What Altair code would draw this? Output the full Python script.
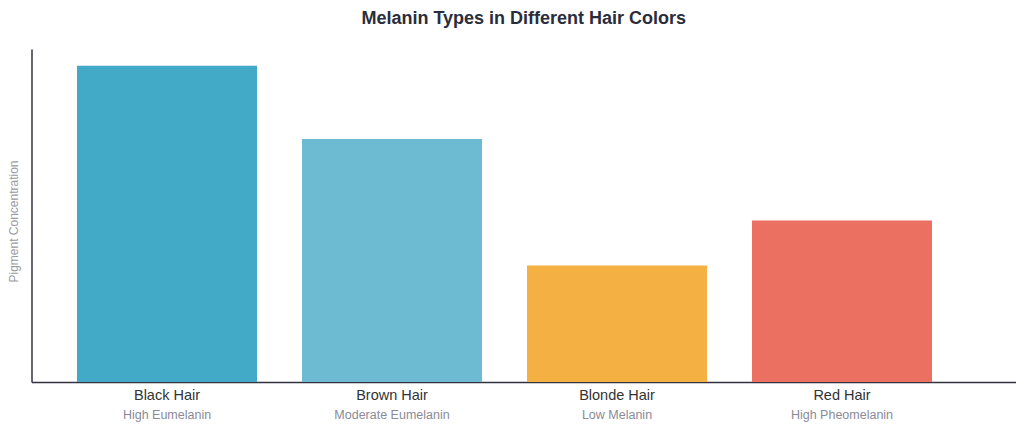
import altair as alt
import pandas as pd

categories = ["Black Hair", "Brown Hair", "Blonde Hair", "Red Hair"]
descriptions = ["High Eumelanin", "Moderate Eumelanin", "Low Melanin", "High Pheomelanin"]
values = [95, 73, 35, 48.5]
colors = ["#42a9c7", "#6cbbd3", "#f4b043", "#eb7062"]

df = pd.DataFrame({"hair": categories, "desc": descriptions, "value": values})

W, H = 984.5, 333
FONT = "Liberation Sans"

x_enc = alt.X(
    "hair:N",
    sort=categories,
    scale=alt.Scale(domain=categories, paddingInner=0.2, paddingOuter=0.2878, align=0.3514),
    axis=alt.Axis(title=None, labels=False, ticks=False, grid=False,
                  domain=True, domainColor="#333340", domainWidth=1.5),
)

base = alt.Chart(df)

bars = base.mark_bar().encode(
    x=x_enc,
    y=alt.Y(
        "value:Q",
        scale=alt.Scale(domain=[0, 100], nice=False),
        axis=alt.Axis(title="Pigment Concentration", labels=False, ticks=False, grid=False,
                      domainColor="#333340", domainWidth=1.5,
                      titleFont=FONT, titleFontSize=12, titleFontWeight="normal",
                      titleColor="#9a9aa2", titleAngle=-90, titleAlign="center",
                      titleBaseline="middle", titleX=-18.5, titleY=172),
    ),
    color=alt.Color("hair:N", scale=alt.Scale(domain=categories, range=colors), legend=None),
)

labels = base.mark_text(font=FONT, fontSize=14.5, color="#333333", baseline="middle").encode(
    x=x_enc,
    y=alt.value(H + 13.5),
    text="hair:N",
)

sublabels = base.mark_text(font=FONT, fontSize=12.5, color="#8a8a98", baseline="middle").encode(
    x=x_enc,
    y=alt.value(H + 33),
    text="desc:N",
)

chart = (
    alt.layer(bars, labels, sublabels)
    .properties(
        width=W,
        height=H,
        autosize=alt.AutoSizeParams(type="none"),
        padding={"left": 23.5, "top": 41, "right": 0, "bottom": 40},
        title=alt.TitleParams(
            "Melanin Types in Different Hair Colors",
            anchor="middle", frame="group", font=FONT, fontSize=18,
            fontWeight="bold", color="#2a2d3c", offset=21,
        ),
    )
    .configure_view(stroke=None)
)

chart.save("out.html", embed_options={"renderer": "svg", "actions": False})
